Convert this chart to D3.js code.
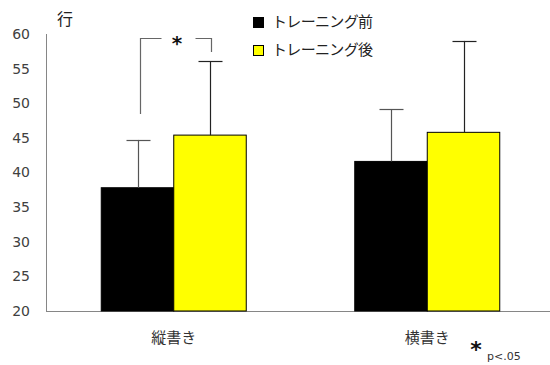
<!DOCTYPE html>
<html>
<head>
<meta charset="utf-8">
<script src="https://cdn.jsdelivr.net/npm/d3@7"></script>
<style>
  html, body { margin: 0; padding: 0; background: #fff; }
  svg { display: block; }
  text { font-family: "Noto Sans CJK JP", "Noto Sans", sans-serif; }
</style>
</head>
<body>
<svg id="chart" width="550" height="365"></svg>
<script>
// Writing style categories and the two measurement series (lines)
const categories = ["縦書き", "横書き"];
const seriesNames = ["トレーニング前", "トレーニング後"];
const before = [37.8, 41.6];
const after = [45.4, 45.8];
const beforeSD = [6.9, 7.5];
const afterSD = [10.7, 13.2];
const yTicks = [20, 25, 30, 35, 40, 45, 50, 55, 60];
const yLabel = "行";
const sigNote = "p<.05";

const colors = ["#000000", "#ffff00"];

const svg = d3.select("#chart");
const margin = { left: 47, right: -4, top: 34, bottom: 54 };
const W = 550, H = 365;

const x = d3.scaleBand()
  .domain(categories)
  .range([margin.left, W - margin.right])
  .paddingInner(0)
  .paddingOuter(0);

const y = d3.scaleLinear()
  .domain([20, 60])
  .range([H - margin.bottom, margin.top]);

const barW = 72.5;

// axes
svg.append("line")
  .attr("x1", x.range()[0]).attr("x2", x.range()[1])
  .attr("y1", y(20) + 0.5).attr("y2", y(20) + 0.5)
  .attr("stroke", "#868686").attr("stroke-width", 1);
svg.append("line")
  .attr("x1", margin.left - 0.5).attr("x2", margin.left - 0.5)
  .attr("y1", y(60)).attr("y2", y(20) + 1)
  .attr("stroke", "#868686").attr("stroke-width", 1);

// y tick labels
svg.append("g").selectAll("text")
  .data(yTicks)
  .join("text")
  .attr("x", 30)
  .attr("y", d => y(d))
  .attr("dy", "0.35em")
  .attr("text-anchor", "end")
  .attr("font-size", 14)
  .attr("fill", "#404040")
  .style("font-family", "'DejaVu Sans', sans-serif")
  .text(d => d);

svg.append("text")
  .attr("x", 65).attr("y", 25)
  .attr("text-anchor", "middle")
  .attr("font-size", 16)
  .attr("fill", "#222")
  .text(yLabel);

// x category labels
svg.append("g").selectAll("text")
  .data(categories)
  .join("text")
  .attr("x", d => x(d) + x.bandwidth() / 2)
  .attr("y", 343)
  .attr("text-anchor", "middle")
  .attr("font-size", 15)
  .attr("fill", "#333")
  .text(d => d);

// bars
const series = [before, after];
const sds = [beforeSD, afterSD];
series.forEach((vals, si) => {
  const g = svg.append("g");
  g.selectAll("rect")
    .data(categories)
    .join("rect")
    .attr("x", d => x(d) + x.bandwidth() / 2 - barW + si * barW)
    .attr("y", (d, i) => y(vals[i]))
    .attr("width", barW)
    .attr("height", (d, i) => y(20) - y(vals[i]))
    .attr("fill", colors[si])
    .attr("stroke", "#000")
    .attr("stroke-width", 1);
});

// error bars (upper half only)
series.forEach((vals, si) => {
  categories.forEach((c, i) => {
    const cx = Math.round(x(c) + x.bandwidth() / 2 - barW / 2 + si * barW) + 0.5;
    const top = y(vals[i] + sds[si][i]);
    const col = si === 0 ? "#555" : "#222";
    svg.append("line")
      .attr("x1", cx).attr("x2", cx)
      .attr("y1", top).attr("y2", y(vals[i]))
      .attr("stroke", col).attr("stroke-width", 1.2);
    svg.append("line")
      .attr("x1", cx - 12).attr("x2", cx + 12)
      .attr("y1", Math.round(top) + 0.5).attr("y2", Math.round(top) + 0.5)
      .attr("stroke", col).attr("stroke-width", 1.2);
  });
});

// significance bracket on the first category
{
  const c = categories[0];
  const lx = Math.round(x(c) + x.bandwidth() / 2 - barW / 2) + 2.5;
  const rx = Math.round(x(c) + x.bandwidth() / 2 + barW / 2) + 1.5;
  const topY = 38.5;
  const path = d3.path();
  path.moveTo(lx, 114); path.lineTo(lx, topY); path.lineTo(lx + 21, topY);
  svg.append("path").attr("d", path.toString())
    .attr("fill", "none").attr("stroke", "#666").attr("stroke-width", 1.2);
  const p2 = d3.path();
  p2.moveTo(rx - 16, topY); p2.lineTo(rx, topY); p2.lineTo(rx, 52);
  svg.append("path").attr("d", p2.toString())
    .attr("fill", "none").attr("stroke", "#666").attr("stroke-width", 1.2);
  svg.append("text")
    .attr("x", (lx + rx) / 2 + 1).attr("y", 50)
    .attr("text-anchor", "middle")
    .attr("font-size", 20).attr("font-weight", "bold")
    .attr("fill", "#111")
    .style("font-family", "'DejaVu Sans', sans-serif")
    .text("*");
}

// legend
const legend = svg.append("g");
seriesNames.forEach((name, i) => {
  const ly = 22 + i * 28;
  legend.append("rect")
    .attr("x", 253.5).attr("y", ly - 4.5)
    .attr("width", 10).attr("height", 10)
    .attr("fill", colors[i]).attr("stroke", "#000").attr("stroke-width", 1);
  legend.append("text")
    .attr("x", 272).attr("y", ly)
    .attr("dy", "0.35em")
    .attr("font-size", 15)
    .attr("textLength", 101)
    .attr("lengthAdjust", "spacing")
    .attr("fill", "#222")
    .text(name);
});

// footnote
svg.append("text")
  .attr("x", 476).attr("y", 357)
  .attr("text-anchor", "middle")
  .attr("font-size", 22).attr("font-weight", "bold")
  .attr("fill", "#111")
  .style("font-family", "'DejaVu Sans', sans-serif")
  .text("*");
svg.append("text")
  .attr("x", 487).attr("y", 360)
  .attr("font-size", 11)
  .attr("fill", "#333")
  .style("font-family", "'DejaVu Sans', sans-serif")
  .text(sigNote);
</script>
</body>
</html>
